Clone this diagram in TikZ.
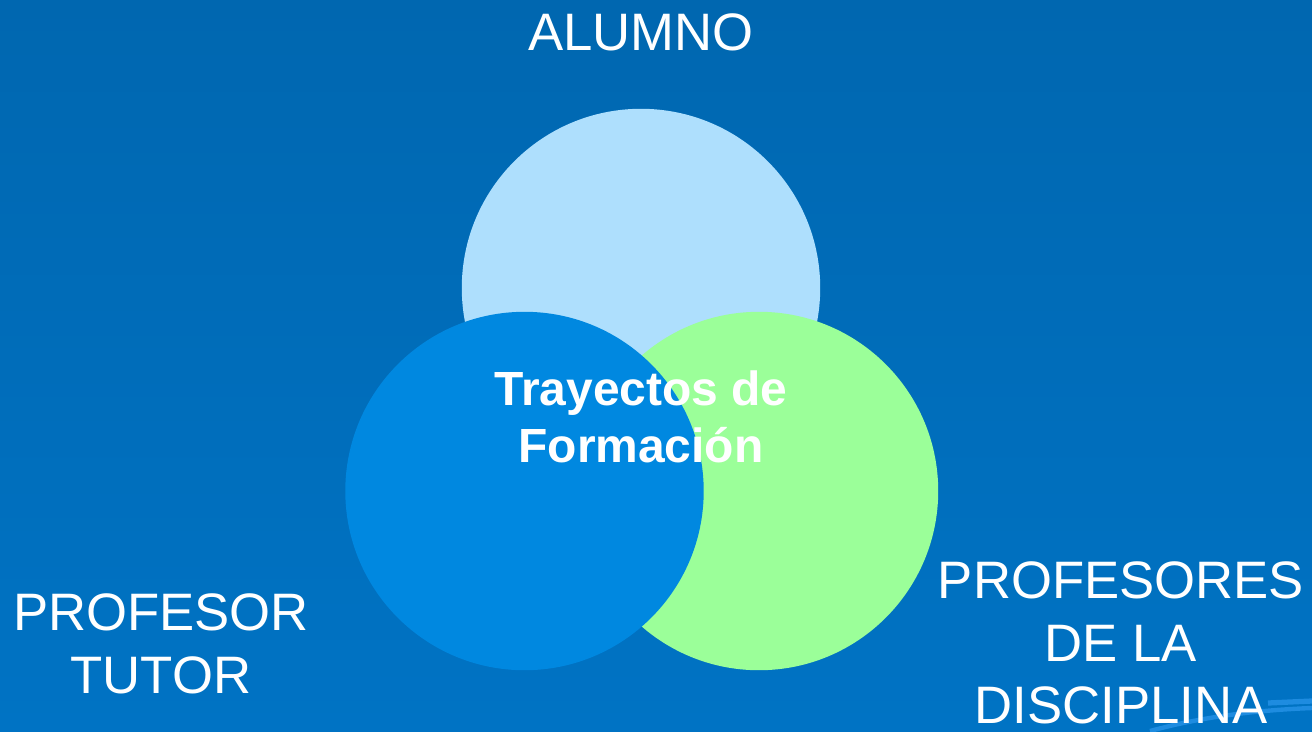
\documentclass[tikz,border=0pt]{standalone}
\usepackage{fontspec}
\setmainfont{Liberation Sans}
\usepackage{xcolor}
\usepackage{tikz}
\definecolor{fondo}{HTML}{0067B0}
\definecolor{fondob}{HTML}{0073C4}
\definecolor{celeste}{HTML}{AEDFFD}
\definecolor{azul}{HTML}{0088E0}
\definecolor{verde}{HTML}{9BFF99}
\definecolor{estela}{HTML}{1E8CE0}

\begin{document}
\begin{tikzpicture}[x=0.02cm, y=-0.02cm,
    circulo/.style={circle, inner sep=0pt, minimum size=7.17cm},
    rotulo/.style={text=white, font=\fontsize{30}{35.7}\selectfont, align=center, inner sep=0pt},
    centro/.style={text=white, font=\fontsize{27.3}{32.3}\selectfont\bfseries, align=center, inner sep=0pt}]
          \shade[top color=fondo, bottom color=fondob] (0,0) rectangle (1312,731);
          \useasboundingbox (0,0) rectangle (1312,731);

          \draw[estela, line width=2.5pt] (1150,731) .. controls (1205,716) and (1260,710) .. (1312,708);
          \draw[estela, line width=3pt] (1268,703) -- (1312,701);

          \node[circulo, fill=celeste](C1) at (641,288) { };
          \node[circulo, fill=verde  ](C3) at (759,491) { };
          \node[circulo, fill=azul   ](C2) at (524.5,491) { };

          \node[centro](T) at (641,417) {Trayectos de\\Formación};

          \node[rotulo, anchor=base](A) at (641,50) {ALUMNO};
          \node[rotulo](P) at (161,644) {PROFESOR\\TUTOR};
          \node[rotulo](D) at (1121,643) {PROFESORES\\DE LA\\DISCIPLINA};
        \end{tikzpicture}
\end{document}
